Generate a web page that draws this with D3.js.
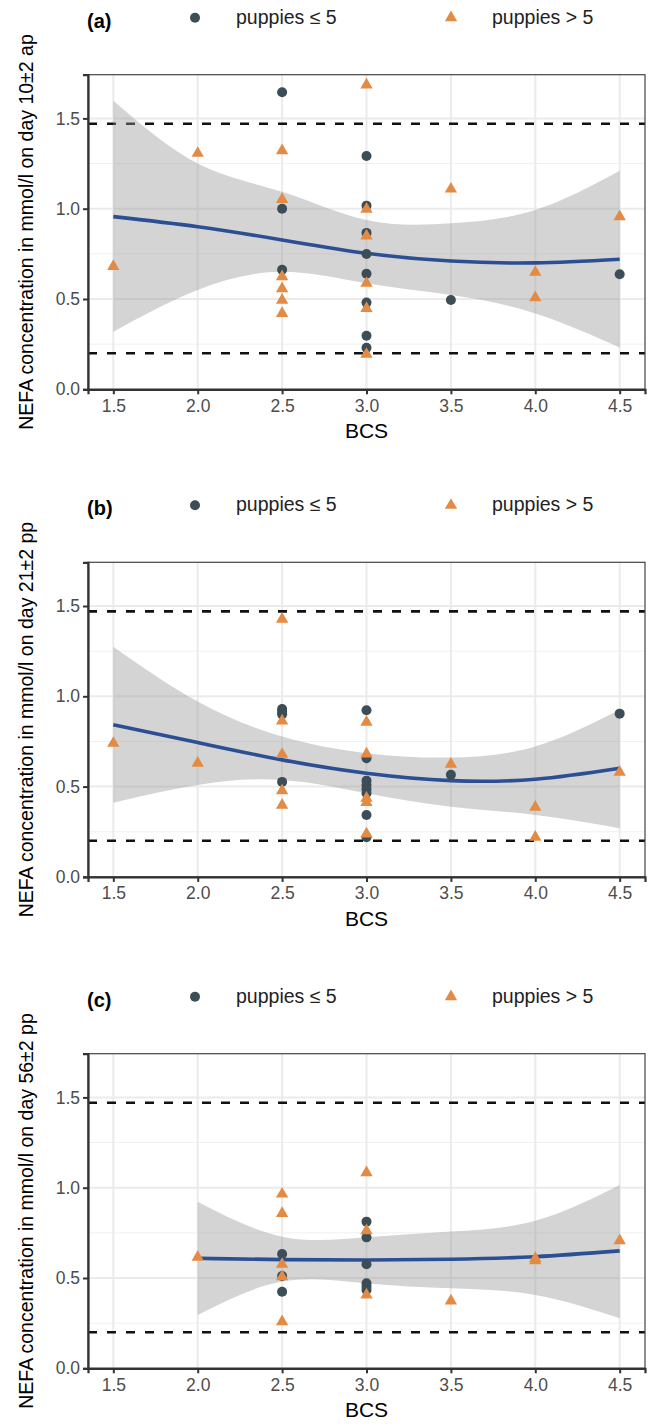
<!DOCTYPE html>
<html>
<head>
<meta charset="utf-8">
<script src="https://cdn.jsdelivr.net/npm/d3@7"></script>
<style>
  body { margin: 0; background: #fff; }
  text { font-family: "Liberation Sans", Arial, sans-serif; }
</style>
</head>
<body>
<script>
// ---- data ----
const bcsTicks = [1.5, 2.0, 2.5, 3.0, 3.5, 4.0, 4.5];
const nefaTicks = [0, 0.5, 1.0, 1.5];
const nefaMinor = [0.25, 0.75, 1.25];
const refLines = [0.2, 1.47];
const groups = ["puppies \u2264 5", "puppies > 5"];
const panelLabels = ["(a)", "(b)", "(c)"];
const yTitles = [
  "NEFA concentration in mmol/l on day 10\u00b12 ap",
  "NEFA concentration in mmol/l on day 21\u00b12 pp",
  "NEFA concentration in mmol/l on day 56\u00b12 pp"
];

// [BCS, NEFA]
const a_le5 = [[2.5,1.645],[2.5,1.0],[2.5,0.662],[3,1.292],[3,1.017],[3,0.866],[3,0.749],[3,0.64],[3,0.48],[3,0.297],[3,0.23],[3.5,0.494],[4.5,0.637]];
const a_gt5 = [[1.5,0.68],[2,1.307],[2.5,1.321],[2.5,1.052],[2.5,0.624],[2.5,0.557],[2.5,0.494],[2.5,0.42],[3,1.685],[3,0.997],[3,0.849],[3,0.587],[3,0.448],[3,0.194],[3.5,1.109],[4,0.648],[4,0.507],[4.5,0.956]];
const b_le5 = [[2.5,0.93],[2.5,0.915],[2.5,0.90],[2.5,0.526],[3,0.923],[3,0.657],[3,0.533],[3,0.509],[3,0.486],[3,0.463],[3,0.343],[3,0.22],[3.5,0.565],[4.5,0.904]];
const b_gt5 = [[1.5,0.74],[2,0.63],[2.5,1.427],[2.5,0.864],[2.5,0.679],[2.5,0.478],[2.5,0.397],[3,0.857],[3,0.681],[3,0.436],[3,0.412],[3,0.238],[3.5,0.624],[4,0.386],[4,0.22],[4.5,0.58]];
const c_le5 = [[2.5,0.633],[2.5,0.511],[2.5,0.424],[3,0.812],[3,0.725],[3,0.576],[3,0.471],[3,0.452],[3,0.434]];
const c_gt5 = [[2,0.615],[2.5,0.965],[2.5,0.858],[2.5,0.576],[2.5,0.507],[2.5,0.258],[3,1.083],[3,0.762],[3,0.406],[3.5,0.373],[4,0.609],[4,0.596],[4.5,0.707]];

// smoother (fit, lower, upper) read at these BCS values
const ab_fitX = [1.5, 2.0, 2.5, 3.0, 3.5, 4.0, 4.5];
const c_fitX  = [2.0, 2.5, 3.0, 3.5, 4.0, 4.5];
const a_fit = [0.956, 0.90, 0.827, 0.753, 0.71, 0.70, 0.72];
const a_lo  = [0.319, 0.55, 0.651, 0.587, 0.522, 0.42, 0.232];
const a_hi  = [1.598, 1.25, 1.094, 0.937, 0.919, 0.993, 1.21];
const b_fit = [0.842, 0.744, 0.648, 0.574, 0.533, 0.541, 0.602];
const b_lo  = [0.411, 0.509, 0.537, 0.463, 0.389, 0.343, 0.27];
const b_hi  = [1.275, 0.971, 0.777, 0.685, 0.661, 0.722, 0.925];
const c_fit = [0.609, 0.602, 0.60, 0.604, 0.618, 0.65];
const c_lo  = [0.295, 0.48, 0.471, 0.443, 0.406, 0.277];
const c_hi  = [0.922, 0.729, 0.725, 0.757, 0.817, 1.015];

const panels = [
  {le5: a_le5, gt5: a_gt5, fx: ab_fitX, fit: a_fit, lo: a_lo, hi: a_hi},
  {le5: b_le5, gt5: b_gt5, fx: ab_fitX, fit: b_fit, lo: b_lo, hi: b_hi},
  {le5: c_le5, gt5: c_gt5, fx: c_fitX,  fit: c_fit, lo: c_lo, hi: c_hi}
];

// ---- layout ----
const W = 651, H = 1426;
const left = 88, right = 645, ph = 314.6;
const tops = [74.7, 562.3, 1053.7];
const colLe5 = "#3b4d57", colGt5 = "#e38b45", colFit = "#2c4f94";

const svg = d3.select("body").append("svg")
  .attr("width", W).attr("height", H);

const x = d3.scaleLinear().domain([1.35, 4.65]).range([left, right]);

panels.forEach((p, i) => {
  const top = tops[i], bottom = top + ph;
  const y = d3.scaleLinear().domain([0, 1.742]).range([bottom, top]);
  const g = svg.append("g");

  // grid
  g.selectAll(".minor").data(nefaMinor).enter().append("line")
    .attr("x1", left).attr("x2", right)
    .attr("y1", d => y(d)).attr("y2", d => y(d))
    .attr("stroke", "#f0f0f0").attr("stroke-width", 1);
  g.selectAll(".majy").data(nefaTicks).enter().append("line")
    .attr("x1", left).attr("x2", right)
    .attr("y1", d => y(d)).attr("y2", d => y(d))
    .attr("stroke", "#ebebeb").attr("stroke-width", 2);
  g.selectAll(".majx").data(bcsTicks).enter().append("line")
    .attr("x1", d => x(d)).attr("x2", d => x(d))
    .attr("y1", top).attr("y2", bottom)
    .attr("stroke", "#ebebeb").attr("stroke-width", 2);

  // reference lines
  g.selectAll(".ref").data(refLines).enter().append("line")
    .attr("x1", left).attr("x2", right)
    .attr("y1", d => y(d)).attr("y2", d => y(d))
    .attr("stroke", "#111").attr("stroke-width", 2.6)
    .attr("stroke-dasharray", "9,10");

  // confidence band + smooth line
  const band = p.fx.map((v, k) => [v, p.lo[k], p.hi[k]]);
  g.append("path").datum(band)
    .attr("fill", "#999").attr("fill-opacity", 0.42)
    .attr("d", d3.area().curve(d3.curveNatural)
      .x(d => x(d[0])).y0(d => y(d[1])).y1(d => y(d[2])));
  g.append("path").datum(p.fx.map((v, k) => [v, p.fit[k]]))
    .attr("fill", "none").attr("stroke", colFit).attr("stroke-width", 3.6)
    .attr("d", d3.line().curve(d3.curveNatural).x(d => x(d[0])).y(d => y(d[1])));

  // points
  g.selectAll(".le5").data(p.le5).enter().append("circle")
    .attr("cx", d => x(d[0])).attr("cy", d => y(d[1])).attr("r", 5)
    .attr("fill", colLe5);
  const tri = d3.symbol().type(d3.symbolTriangle).size(66);
  g.selectAll(".gt5").data(p.gt5).enter().append("path")
    .attr("d", tri)
    .attr("transform", d => `translate(${x(d[0])},${y(d[1])})`)
    .attr("fill", colGt5);

  // panel border
  g.append("rect").attr("x", left).attr("y", top)
    .attr("width", right - left).attr("height", ph)
    .attr("fill", "none").attr("stroke", "#444").attr("stroke-width", 1.2);

  // axes
  const xAxis = g.append("g").attr("transform", `translate(0,${bottom})`)
    .call(d3.axisBottom(x).tickValues(bcsTicks).tickFormat(d3.format(".1f")).tickSize(5).tickPadding(5));
  const yAxis = g.append("g").attr("transform", `translate(${left},0)`)
    .call(d3.axisLeft(y).tickValues(nefaTicks).tickFormat(d3.format(".1f")).tickSize(5).tickPadding(3));
  [xAxis, yAxis].forEach(ax => {
    ax.select(".domain").attr("stroke", "#333").attr("stroke-width", 2.2);
    ax.selectAll(".tick line").attr("stroke", "#333").attr("stroke-width", 2);
    ax.selectAll(".tick text").attr("fill", "#4d4d4d")
      .style("font-size", "17.5px").style("font-family", "Liberation Sans, Arial, sans-serif");
  });

  // axis titles
  g.append("text").attr("x", (left + right) / 2).attr("y", bottom + 49)
    .attr("text-anchor", "middle").style("font-size", "21px").text("BCS");
  g.append("text")
    .attr("transform", `translate(33,${(top + bottom) / 2}) rotate(-90)`)
    .attr("text-anchor", "middle").style("font-size", "19.5px").text(yTitles[i]);

  // panel tag + legend
  g.append("text").attr("x", 87).attr("y", top - 47)
    .style("font-size", "20px").style("font-weight", "bold").text(panelLabels[i]);
  g.append("circle").attr("cx", 195).attr("cy", top - 57).attr("r", 5).attr("fill", colLe5);
  g.append("text").attr("x", 236).attr("y", top - 51)
    .style("font-size", "19.5px").attr("fill", "#222").text(groups[0]);
  g.append("path").attr("d", tri)
    .attr("transform", `translate(451,${top - 57})`).attr("fill", colGt5);
  g.append("text").attr("x", 492).attr("y", top - 51)
    .style("font-size", "19.5px").attr("fill", "#222").text(groups[1]);
});
</script>
</body>
</html>
